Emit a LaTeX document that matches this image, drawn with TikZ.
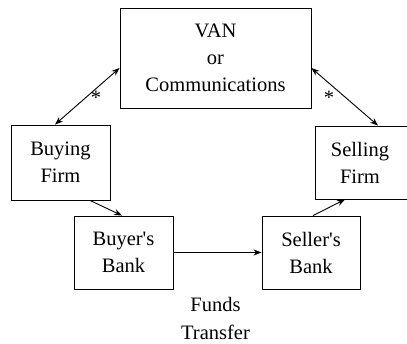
\documentclass[tikz,border=0pt]{standalone}
\usepackage{fontspec}
\setmainfont{Liberation Serif}[Ligatures=TeXOff]
\usetikzlibrary{arrows.meta}
\begin{document}
\begin{tikzpicture}[x=1pt,y=-1pt,
  box/.style={draw,line width=0.9pt,inner sep=0pt,align=center,font=\fontsize{20.5}{27}\selectfont},
  lbl/.style={inner sep=0pt,align=center,font=\fontsize{20.5}{28}\selectfont},
  conn/.style={line width=0.9pt,-{Stealth[length=8pt,width=6pt]}},
  conn2/.style={line width=0.9pt,{Stealth[length=8pt,width=6pt]}-{Stealth[length=8pt,width=6pt]}}]
\useasboundingbox (0,0) rectangle (407,344);
\node[box,minimum width=191pt,minimum height=100pt] (van) at (215.5,58) {VAN\\or\\Communications};
\node[box,minimum width=99pt,minimum height=75pt] (buy) at (60.5,162.5) {Buying\\Firm};
\node[box,minimum width=94pt,minimum height=73pt] (sell) at (362,162.5) {\hspace*{-4pt}Selling\\\hspace*{-4pt}Firm};
\node[box,minimum width=99pt,minimum height=73pt] (bbank) at (123.5,252.5) {Buyer's\\Bank};
\node[box,minimum width=98pt,minimum height=73pt] (sbank) at (311,252.5) {Seller's\\Bank};
\node[lbl] (funds) at (215.5,318.5) {Funds\\Transfer};
\node[lbl] (s1) at (96,98) {*};
\node[lbl] (s2) at (329,98) {*};
\draw[conn2] ([yshift=-10pt]van.west) -- ([xshift=-5.5pt]buy.north);
\draw[conn2] ([yshift=-10pt]van.east) -- ([xshift=16pt]sell.north);
\draw[conn] ([xshift=29.5pt]buy.south) -- ([xshift=-1.5pt]bbank.north);
\draw[conn] ([xshift=2pt]sbank.north) -- ([xshift=-17pt]sell.south);
\draw[conn] (bbank.east) -- (sbank.west);
\end{tikzpicture}
\end{document}
